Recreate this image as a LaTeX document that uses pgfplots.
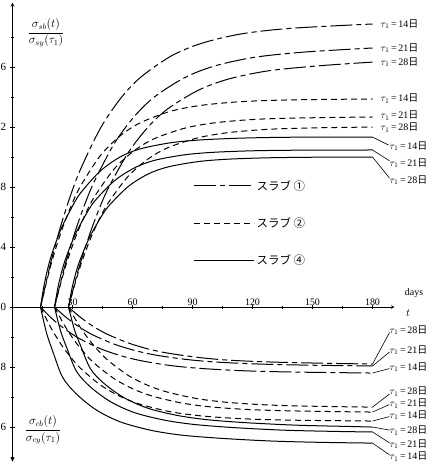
\documentclass[border=0pt]{standalone}
\usepackage{fontspec}
\setmainfont{Liberation Serif}
\newfontfamily\cjk{Noto Sans CJK JP}
\usepackage{amsmath}
\usepackage{pgfplots}
\pgfplotsset{compat=1.18}
\pgfplotsset{
  slabA/.style={black, line width=1bp, dash pattern=on 22bp off 4bp on 5bp off 4bp, smooth},
  slabB/.style={black, line width=1bp, dash pattern=on 6bp off 4bp, smooth},
  slabD/.style={black, line width=1bp, solid, smooth},
}
\newcommand{\lab}[1]{$\tau_{1}$\,=\,#1{\cjk 日}}
\begin{document}
\begin{tikzpicture}
\begin{axis}[
  x=2bp, y=150bp,
  xmin=0, xmax=191, ymin=-1.03, ymax=2.03,
  axis x line=middle, axis y line=left,
  x axis line style={-stealth, line width=0.6bp},
  y axis line style={stealth-stealth, line width=0.8bp},
  xtick={30,60,...,180},
  minor xtick={15,45,75,105,135,165},
  ytick={-0.8,-0.4,0,0.4,0.8,1.2,1.6},
  yticklabels={6,8,0,4,8,2,6},
  minor ytick={-1,-0.6,-0.2,0.2,0.6,1,1.4,1.8},
  xticklabel style={anchor=south, font=\fontsize{10}{10}\selectfont},
  yticklabel style={font=\fontsize{11}{11}\selectfont, xshift=-1bp},
  /pgf/number format/assume math mode=true,
  hide obscured x ticks=false, hide obscured y ticks=false,
  tick style={black, line width=0.5bp},
  major tick length=4bp, minor tick length=3bp,
  clip=false,
  legend style={at={(axis cs:90.5,0.86)}, anchor=north west, draw=none, fill=none,
    row sep=22bp, font=\fontsize{11.5}{11.5}\selectfont, inner sep=0pt},
  legend cell align=left,
  legend image code/.code={\draw[#1] (0bp,0bp) -- (60bp,0bp);},
]
% ---- top: slab 1 (dash-dot)
\addplot[slabA] coordinates {(14,0) (19,0.290) (24,0.535) (29,0.743) (34,0.918) (44,1.193) (54,1.390) (64,1.531) (79,1.671) (94,1.756) (114,1.820) (139,1.858) (180,1.887)};
\addlegendentry{{\cjk スラブ ①}}
% ---- top: slab 2 (dashed)
\addplot[slabB] coordinates {(14,0) (19,0.271) (24,0.489) (29,0.664) (34,0.806) (44,1.011) (54,1.143) (64,1.229) (79,1.305) (94,1.344) (114,1.369) (139,1.381) (180,1.387)};
\addlegendentry{{\cjk スラブ ②}}
% ---- top: slab 4 (solid)
\addplot[slabD] coordinates {(14,0) (16,0.160) (19,0.325) (24,0.512) (29,0.648) (34,0.760) (44,0.908) (54,1.002) (64,1.055) (79,1.095) (94,1.114) (114,1.126) (139,1.132) (180,1.133)};
\addlegendentry{{\cjk スラブ ④}}
\addplot[slabA, forget plot] coordinates {(21,0) (26,0.265) (31,0.490) (36,0.680) (41,0.840) (51,1.092) (61,1.272) (71,1.401) (86,1.529) (101,1.607) (121,1.665) (146,1.700) (180,1.727)};
\addplot[slabA, forget plot] coordinates {(28,0) (33,0.251) (38,0.463) (43,0.643) (48,0.795) (58,1.032) (68,1.203) (78,1.325) (93,1.446) (108,1.520) (128,1.575) (153,1.608) (180,1.633)};
\addplot[slabB, forget plot] coordinates {(21,0) (26,0.248) (31,0.447) (36,0.607) (41,0.736) (51,0.923) (61,1.044) (71,1.123) (86,1.192) (101,1.228) (121,1.251) (146,1.261) (180,1.267)};
\addplot[slabB, forget plot] coordinates {(28,0) (33,0.234) (38,0.423) (43,0.575) (48,0.697) (58,0.874) (68,0.989) (78,1.064) (93,1.129) (108,1.163) (128,1.185) (153,1.195) (180,1.200)};
\addplot[slabD, forget plot] coordinates {(21,0) (23,0.148) (26,0.300) (31,0.473) (36,0.600) (41,0.705) (51,0.842) (61,0.928) (71,0.978) (86,1.015) (101,1.032) (121,1.042) (146,1.046) (180,1.047)};
\addplot[slabD, forget plot] coordinates {(28,0) (30,0.140) (33,0.285) (38,0.450) (43,0.572) (48,0.672) (58,0.805) (68,0.888) (78,0.935) (93,0.970) (108,0.986) (128,0.995) (153,0.999) (180,1.000)};
% ---- bottom: slab 1
\addplot[slabA, forget plot] coordinates {(28,0) (33,-0.058) (38,-0.108) (43,-0.150) (48,-0.185) (58,-0.240) (68,-0.280) (78,-0.308) (93,-0.336) (108,-0.354) (128,-0.366) (153,-0.374) (180,-0.380)};
\addplot[slabA, forget plot] coordinates {(21,0) (26,-0.060) (31,-0.111) (36,-0.155) (41,-0.191) (51,-0.248) (61,-0.289) (71,-0.319) (86,-0.348) (101,-0.366) (121,-0.379) (146,-0.387) (180,-0.393)};
\addplot[slabA, forget plot] coordinates {(14,0) (19,-0.068) (24,-0.125) (29,-0.173) (34,-0.214) (44,-0.278) (54,-0.324) (64,-0.357) (79,-0.390) (94,-0.409) (114,-0.424) (139,-0.433) (180,-0.440)};
% ---- bottom: slab 2
\addplot[slabB, forget plot] coordinates {(28,0) (33,-0.117) (38,-0.213) (43,-0.292) (48,-0.358) (58,-0.457) (68,-0.524) (78,-0.569) (93,-0.612) (108,-0.636) (128,-0.653) (153,-0.662) (180,-0.667)};
\addplot[slabB, forget plot] coordinates {(21,0) (26,-0.122) (31,-0.224) (36,-0.307) (41,-0.376) (51,-0.479) (61,-0.550) (71,-0.598) (86,-0.643) (101,-0.668) (121,-0.685) (146,-0.694) (180,-0.700)};
\addplot[slabB, forget plot] coordinates {(14,0) (19,-0.133) (24,-0.243) (29,-0.333) (34,-0.408) (44,-0.520) (54,-0.597) (64,-0.649) (79,-0.698) (94,-0.725) (114,-0.744) (139,-0.754) (180,-0.760)};
% ---- bottom: slab 4
\addplot[slabD, forget plot] coordinates {(28,0) (31,-0.152) (34,-0.256) (39,-0.412) (46,-0.512) (56,-0.606) (68,-0.676) (83,-0.724) (98,-0.752) (118,-0.772) (143,-0.788) (168,-0.796) (180,-0.800)};
\addplot[slabD, forget plot] coordinates {(21,0) (24,-0.158) (27,-0.267) (32,-0.429) (39,-0.533) (49,-0.631) (61,-0.704) (76,-0.754) (91,-0.783) (111,-0.804) (136,-0.821) (161,-0.829) (180,-0.833)};
\addplot[slabD, forget plot] coordinates {(14,0) (17,-0.172) (20,-0.290) (25,-0.467) (32,-0.580) (42,-0.687) (54,-0.766) (69,-0.821) (84,-0.853) (104,-0.875) (129,-0.893) (154,-0.902) (180,-0.907)};

% ---- annotations
\begin{scope}[font=\fontsize{10}{10}\selectfont]
\node[anchor=west, inner sep=1bp] at (axis cs:183.5,1.887) {\lab{14}};
\node[anchor=west, inner sep=1bp] at (axis cs:183.5,1.727) {\lab{21}};
\node[anchor=west, inner sep=1bp] at (axis cs:183.5,1.633) {\lab{28}};
\node[anchor=west, inner sep=1bp] at (axis cs:183.5,1.390) {\lab{14}};
\node[anchor=west, inner sep=1bp] at (axis cs:183.5,1.275) {\lab{21}};
\node[anchor=west, inner sep=1bp] at (axis cs:183.5,1.195) {\lab{28}};
\node[anchor=west, inner sep=1bp] at (axis cs:188,1.073) {\lab{14}};
\node[anchor=west, inner sep=1bp] at (axis cs:188,0.960) {\lab{21}};
\node[anchor=west, inner sep=1bp] at (axis cs:188,0.847) {\lab{28}};
\node[anchor=west, inner sep=1bp] at (axis cs:188,-0.153) {\lab{28}};
\node[anchor=west, inner sep=1bp] at (axis cs:188,-0.287) {\lab{21}};
\node[anchor=west, inner sep=1bp] at (axis cs:188,-0.400) {\lab{14}};
\node[anchor=west, inner sep=1bp] at (axis cs:188,-0.565) {\lab{28}};
\node[anchor=west, inner sep=1bp] at (axis cs:188,-0.643) {\lab{21}};
\node[anchor=west, inner sep=1bp] at (axis cs:188,-0.722) {\lab{14}};
\node[anchor=west, inner sep=1bp] at (axis cs:188,-0.825) {\lab{28}};
\node[anchor=west, inner sep=1bp] at (axis cs:188,-0.915) {\lab{21}};
\node[anchor=west, inner sep=1bp] at (axis cs:188,-0.998) {\lab{14}};
\end{scope}
\draw[line width=0.6bp] (axis cs:180,1.133) -- (axis cs:188,1.08);
\draw[line width=0.6bp] (axis cs:180,1.047) -- (axis cs:188.5,0.975);
\draw[line width=0.6bp] (axis cs:180,1.000) -- (axis cs:188.5,0.86);
\draw[line width=0.6bp] (axis cs:180,-0.380) -- (axis cs:188.5,-0.17);
\draw[line width=0.6bp] (axis cs:180,-0.393) -- (axis cs:188.5,-0.30);
\draw[line width=0.6bp] (axis cs:180,-0.440) -- (axis cs:188.5,-0.41);
\draw[line width=0.6bp] (axis cs:180,-0.667) -- (axis cs:188.5,-0.58);
\draw[line width=0.6bp] (axis cs:180,-0.700) -- (axis cs:188.5,-0.65);
\draw[line width=0.6bp] (axis cs:180,-0.760) -- (axis cs:188.5,-0.73);
\draw[line width=0.6bp] (axis cs:180,-0.800) -- (axis cs:188.5,-0.82);
\draw[line width=0.6bp] (axis cs:180,-0.833) -- (axis cs:188.5,-0.905);
\draw[line width=0.6bp] (axis cs:180,-0.907) -- (axis cs:188.5,-0.985);
\node at (axis cs:16.75,1.827) {\fontsize{12}{12}\selectfont$\dfrac{\sigma_{sb}(t)}{\sigma_{sy}(\tau_1)}$};
\node at (axis cs:15.25,-0.82) {\fontsize{12}{12}\selectfont$\dfrac{\sigma_{cb}(t)}{\sigma_{cy}(\tau_1)}$};
\node[font=\fontsize{10}{10}\selectfont] at (axis cs:200.75,0.093) {days};
\node[font=\fontsize{11}{11}\selectfont] at (axis cs:197.75,-0.04) {$t$};
\coordinate (BL) at (axis cs:-6.25,-1.053);
\coordinate (TR) at (axis cs:212.25,2.047);
\end{axis}
\pgfresetboundingbox
\path (BL) rectangle (TR);
\end{tikzpicture}
\end{document}
